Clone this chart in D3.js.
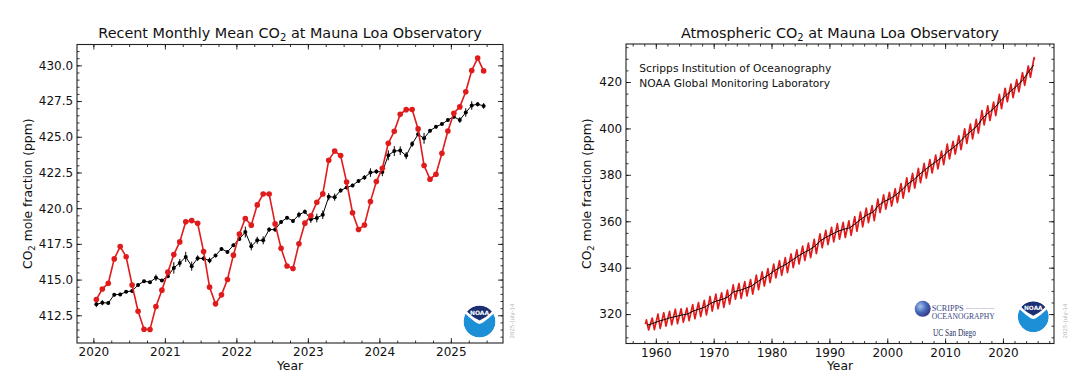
<!DOCTYPE html>
<html lang="en">
<head>
<meta charset="UTF-8">
<title>Mauna Loa CO2</title>
<script src="https://cdn.jsdelivr.net/npm/d3@7"></script>
<style>
  body { margin: 0; background: #fff; }
  svg text { font-family: "DejaVu Sans", Verdana, sans-serif; }
</style>
</head>
<body>
<svg id="chart" width="1075" height="376"></svg>
<script>
// ---- recent panel: monthly values from Jan 2020 ----
const recentStart = 2020;
const monthlyMean = [
  413.61, 414.34, 414.74, 416.45, 417.31, 416.60, 414.62, 412.78, 411.52, 411.51, 413.12, 414.26,
  415.52, 416.75, 417.64, 419.05, 419.13, 418.94, 416.96, 414.47, 413.30, 413.93, 415.01, 416.71,
  418.19, 419.28, 418.81, 420.23, 420.99, 420.99, 418.90, 417.19, 415.95, 415.78, 417.51, 418.95,
  419.47, 420.41, 421.00, 423.36, 424.00, 423.68, 421.83, 419.68, 418.51, 418.82, 420.46, 421.86,
  422.80, 424.55, 425.38, 426.57, 426.90, 426.91, 425.55, 422.99, 422.03, 422.38, 423.85, 425.40,
  426.65, 427.09, 428.15, 429.64, 430.51, 429.61
];
const trendMean = [
  413.27, 413.38, 413.36, 413.94, 413.96, 414.15, 414.20, 414.62, 414.89, 414.82, 415.13, 414.94,
  415.24, 415.82, 416.17, 416.59, 415.94, 416.50, 416.47, 416.34, 416.68, 417.15, 416.94, 417.40,
  417.85, 418.33, 417.33, 417.75, 417.75, 418.50, 418.50, 419.03, 419.33, 419.10, 419.54, 419.75,
  419.22, 419.31, 419.54, 420.80, 420.77, 421.24, 421.45, 421.59, 421.91, 422.15, 422.49, 422.56,
  422.54, 423.70, 424.00, 424.03, 423.68, 424.49, 425.17, 424.89, 425.42, 425.70, 425.89, 426.17,
  426.40, 426.17, 426.70, 427.19, 427.28, 427.16
];
const trendErr = [
  0.20, 0.18, 0.12, 0.12, 0.12, 0.10, 0.10, 0.10, 0.10, 0.10, 0.22, 0.10,
  0.12, 0.40, 0.28, 0.35, 0.32, 0.20, 0.15, 0.20, 0.12, 0.12, 0.12, 0.12,
  0.15, 0.38, 0.28, 0.25, 0.28, 0.15, 0.15, 0.12, 0.12, 0.12, 0.20, 0.15,
  0.25, 0.30, 0.30, 0.25, 0.25, 0.15, 0.12, 0.12, 0.12, 0.15, 0.30, 0.15,
  0.30, 0.35, 0.35, 0.30, 0.25, 0.20, 0.15, 0.38, 0.12, 0.12, 0.10, 0.12,
  0.15, 0.20, 0.30, 0.30, 0.15, 0.20
];

// ---- full record panel: yearly trend, May peak and autumn low ----
const longYears = [
  1958, 1959, 1960, 1961, 1962, 1963, 1964, 1965, 1966, 1967, 1968, 1969,
  1970, 1971, 1972, 1973, 1974, 1975, 1976, 1977, 1978, 1979,
  1980, 1981, 1982, 1983, 1984, 1985, 1986, 1987, 1988, 1989,
  1990, 1991, 1992, 1993, 1994, 1995, 1996, 1997, 1998, 1999,
  2000, 2001, 2002, 2003, 2004, 2005, 2006, 2007, 2008, 2009,
  2010, 2011, 2012, 2013, 2014, 2015, 2016, 2017, 2018, 2019,
  2020, 2021, 2022, 2023, 2024, 2025
];
const longTrend = [
  315.20, 315.98, 316.91, 317.64, 318.45, 318.99, 319.62, 320.04, 321.37, 322.18, 323.05, 324.62,
  325.68, 326.32, 327.46, 329.68, 330.19, 331.12, 332.03, 333.84, 335.41, 336.84,
  338.76, 340.12, 341.48, 343.15, 344.87, 346.35, 347.61, 349.31, 351.69, 353.20,
  354.45, 355.70, 356.54, 357.21, 358.96, 360.97, 362.74, 363.88, 366.84, 368.54,
  369.71, 371.32, 373.45, 375.98, 377.70, 379.98, 382.09, 384.02, 385.83, 387.64,
  390.10, 391.85, 394.06, 396.74, 398.81, 401.01, 404.41, 406.76, 408.72, 411.65,
  414.21, 416.41, 418.53, 421.08, 424.61, 427.30
];
const longPeak = [
  317.5, 318.3, 320.0, 320.6, 321.2, 322.1, 322.3, 322.6, 324.1, 325.0, 325.9, 327.6,
  328.6, 329.2, 330.3, 332.6, 333.2, 334.0, 334.9, 336.8, 338.2, 339.6,
  341.5, 343.0, 344.3, 345.9, 347.7, 349.3, 350.6, 352.2, 354.6, 356.1,
  357.4, 359.0, 359.5, 360.2, 362.0, 364.0, 365.7, 366.7, 369.5, 371.4,
  372.5, 374.0, 376.2, 378.7, 380.6, 382.8, 384.9, 386.6, 388.5, 390.2,
  393.2, 394.4, 396.8, 399.8, 401.9, 403.9, 407.7, 409.7, 411.3, 414.7,
  417.3, 419.1, 421.0, 424.0, 426.9, 430.5
];
const longTrough = [
  313.2, 313.3, 313.8, 314.8, 315.4, 315.9, 316.5, 317.2, 318.0, 318.9, 319.7, 321.3,
  322.3, 322.9, 324.3, 326.4, 326.8, 327.8, 328.6, 330.5, 332.1, 333.6,
  335.6, 336.7, 337.9, 340.0, 341.6, 343.1, 344.3, 346.1, 348.6, 349.9,
  351.1, 352.3, 353.0, 353.9, 355.7, 357.6, 359.4, 360.3, 363.7, 365.2,
  366.5, 368.0, 370.0, 372.7, 374.3, 376.6, 378.6, 380.8, 382.6, 384.4,
  386.9, 388.9, 390.9, 393.5, 395.5, 398.0, 401.5, 403.4, 405.5, 408.5,
  411.5, 413.3, 415.8, 418.5, 422.0, null
];
const firstMonthly = [1958.208, 315.70];   // Mar 1958
const lastMonthly = [2025.458, 429.61];    // Jun 2025
const peakTime = 0.375, troughTime = 0.75; // fraction of the year

const stamp = "2025-July-14";
const red = "#e01b1b";

const svg = d3.select("#chart");
svg.append("rect").attr("width", 1075).attr("height", 376).attr("fill", "#fff");

function padded(ext) {
  const m = (ext[1] - ext[0]) * 0.05;
  return [ext[0] - m, ext[1] + m];
}

function drawAxes(x, y, o) {
  const [xa, xb] = x.range(), [yb, ya] = y.range();
  const ticks = (s, step) => {
    const [d0, d1] = s.domain();
    return d3.range(Math.ceil(d0 / step - 1e-6), Math.floor(d1 / step + 1e-6) + 1).map(k => +(k * step).toFixed(4));
  };
  const sides = [
    [d3.axisBottom, x, `translate(0,${yb})`, o.xMajor, o.xMinor, o.xFmt, 4.5],
    [d3.axisTop, x, `translate(0,${ya})`, o.xMajor, o.xMinor, null, 0],
    [d3.axisLeft, y, `translate(${xa},0)`, o.yMajor, o.yMinor, o.yFmt, 3.8],
    [d3.axisRight, y, `translate(${xb},0)`, o.yMajor, o.yMinor, null, 0]
  ];
  sides.forEach(([axis, s, tr, major, minor, fmt, pad]) => {
    [[minor, 2.5, null], [major, 5, fmt]].forEach(([step, len, f]) => {
      const a = axis(s).tickValues(ticks(s, step)).tickSizeInner(-len).tickSizeOuter(0)
        .tickPadding(pad).tickFormat(f || (() => ""));
      svg.append("g").attr("transform", tr).call(a)
        .attr("font-family", null).attr("font-size", null)
        .call(g => g.select(".domain").remove())
        .call(g => g.selectAll("line").attr("stroke", "#000").attr("stroke-width", 0.8))
        .call(g => g.selectAll("text").attr("font-size", 12).attr("fill", "#111"));
    });
  });
  svg.append("rect").attr("x", xa).attr("y", ya).attr("width", xb - xa).attr("height", yb - ya)
    .attr("fill", "none").attr("stroke", "#222").attr("stroke-width", 1.1);

  // title with subscript
  const t = svg.append("text").attr("x", (xa + xb) / 2).attr("y", 37.5)
    .attr("text-anchor", "middle").attr("font-size", 14.4).attr("fill", "#111");
  t.append("tspan").text(o.title[0]);
  t.append("tspan").attr("font-size", 10).attr("dy", 3).text("2");
  t.append("tspan").attr("dy", -3).text(o.title[1]);

  svg.append("text").attr("x", (xa + xb) / 2).attr("y", 370).attr("text-anchor", "middle")
    .attr("font-size", 12.3).attr("fill", "#111").text("Year");

  const yl = svg.append("text").attr("transform", `translate(${o.yLabelX},${(ya + yb) / 2}) rotate(-90)`)
    .attr("text-anchor", "middle").attr("font-size", 12.3).attr("fill", "#111");
  yl.append("tspan").text("CO");
  yl.append("tspan").attr("font-size", 8.6).attr("dy", 2.6).text("2");
  yl.append("tspan").attr("dy", -2.6).text(" mole fraction (ppm)");

  svg.append("text").attr("transform", `translate(${o.stampX},321) rotate(-90)`)
    .attr("text-anchor", "middle").attr("font-size", 5.5).attr("fill", "#b4b4b4").text(stamp);
}

function noaaLogo(cx, cy, r, id) {
  const g = svg.append("g").attr("transform", `translate(${cx},${cy}) scale(${r / 16})`);
  g.append("clipPath").attr("id", id).append("circle").attr("r", 16);
  const c = g.append("g").attr("clip-path", `url(#${id})`);
  c.append("path").attr("fill", "#1d8fd7")
    .attr("d", "M-14,-7.7 C-8,-2 -3,2 0,2.5 C3,2 8,-2 14,-7.7 A16,16 0 1 1 -14,-7.7 Z");
  c.append("path").attr("fill", "#1b2f72")
    .attr("d", "M-12.5,-10 A16,16 0 0 1 12.5,-10 C8.5,-5.5 3,-2.5 0,-1 C-3,-2.5 -8.5,-5.5 -12.5,-10 Z");
  g.append("text").attr("x", 0).attr("y", -6.8).attr("text-anchor", "middle")
    .attr("font-size", 6).attr("font-weight", "bold").attr("fill", "#fff").text("NOAA");
}

// ---------------- left panel ----------------
const recentDate = i => recentStart + (i + 0.5) / 12;
const xL = d3.scaleLinear()
  .domain(padded([recentDate(0), recentDate(monthlyMean.length - 1)])).range([77, 503]);
const yL = d3.scaleLinear()
  .domain(padded(d3.extent(monthlyMean.concat(trendMean)))).range([343, 44.5]);

drawAxes(xL, yL, {
  xMajor: 1, xMinor: 0.25, yMajor: 2.5, yMinor: 0.5,
  xFmt: d3.format("d"), yFmt: d3.format(".1f"),
  title: ["Recent Monthly Mean CO", " at Mauna Loa Observatory"],
  yLabelX: 32, stampX: 514
});

const gL = svg.append("g");
gL.selectAll("line.err").data(trendMean).join("line").attr("class", "err")
  .attr("x1", (d, i) => xL(recentDate(i))).attr("x2", (d, i) => xL(recentDate(i)))
  .attr("y1", (d, i) => yL(d - trendErr[i])).attr("y2", (d, i) => yL(d + trendErr[i]))
  .attr("stroke", "#000").attr("stroke-width", 1);
gL.append("path").datum(trendMean)
  .attr("d", d3.line().x((d, i) => xL(recentDate(i))).y(d => yL(d)))
  .attr("fill", "none").attr("stroke", "#000").attr("stroke-width", 1);
gL.selectAll("circle.trend").data(trendMean).join("circle").attr("class", "trend")
  .attr("cx", (d, i) => xL(recentDate(i))).attr("cy", d => yL(d)).attr("r", 2).attr("fill", "#000");

gL.append("path").datum(monthlyMean)
  .attr("d", d3.line().x((d, i) => xL(recentDate(i))).y(d => yL(d)))
  .attr("fill", "none").attr("stroke", red).attr("stroke-width", 1.6);
gL.selectAll("circle.mean").data(monthlyMean).join("circle").attr("class", "mean")
  .attr("cx", (d, i) => xL(recentDate(i))).attr("cy", d => yL(d)).attr("r", 2.8).attr("fill", red);

noaaLogo(479.5, 321.5, 16, "noaaL");

// ---------------- right panel ----------------
const longRed = [firstMonthly];
longYears.forEach((yr, i) => {
  longRed.push([yr + peakTime, longPeak[i]]);
  if (longTrough[i] != null) longRed.push([yr + troughTime, longTrough[i]]);
});
longRed.push(lastMonthly);
const longBlack = longYears.map((yr, i) => [Math.min(yr + 0.5, lastMonthly[0] - 0.15), longTrend[i]]);

const xR = d3.scaleLinear().domain(padded([firstMonthly[0], lastMonthly[0]])).range([626, 1054]);
const yR = d3.scaleLinear()
  .domain(padded([d3.min(longTrough.filter(v => v != null)), d3.max(longPeak)])).range([343.5, 44]);

drawAxes(xR, yR, {
  xMajor: 10, xMinor: 2, yMajor: 20, yMinor: 5,
  xFmt: d3.format("d"), yFmt: d3.format("d"),
  title: ["Atmospheric CO", " at Mauna Loa Observatory"],
  yLabelX: 591, stampX: 1067
});

svg.append("path").datum(longRed)
  .attr("d", d3.line().x(d => xR(d[0])).y(d => yR(d[1])))
  .attr("fill", "none").attr("stroke", red).attr("stroke-width", 1.7).attr("stroke-linejoin", "round");
svg.append("path").datum(longBlack)
  .attr("d", d3.line().x(d => xR(d[0])).y(d => yR(d[1])))
  .attr("fill", "none").attr("stroke", "#000").attr("stroke-width", 1);

svg.append("text").attr("x", 639.3).attr("y", 71.7).attr("font-size", 10.7).attr("fill", "#111")
  .text("Scripps Institution of Oceanography");
svg.append("text").attr("x", 639.3).attr("y", 86.7).attr("font-size", 10.7).attr("fill", "#111")
  .text("NOAA Global Monitoring Laboratory");

// Scripps / UC San Diego mark
const grad = svg.append("defs").append("radialGradient").attr("id", "globe")
  .attr("cx", "35%").attr("cy", "35%").attr("r", "70%");
grad.append("stop").attr("offset", "0%").attr("stop-color", "#a9c4ea");
grad.append("stop").attr("offset", "55%").attr("stop-color", "#4468b8");
grad.append("stop").attr("offset", "100%").attr("stop-color", "#3b3583");
svg.append("circle").attr("cx", 922.7).attr("cy", 308.8).attr("r", 8).attr("fill", "url(#globe)");
const serif = '"Liberation Serif", "DejaVu Serif", serif';
const serifText = (x, y, size, len, fill, str) => {
  const t = svg.append("text")
    .attr("x", x).attr("y", y).attr("font-size", size).attr("fill", fill)
    .style("font-family", serif).text(str);
  if (len) t.attr("textLength", len).attr("lengthAdjust", "spacingAndGlyphs");
  return t;
};
serifText(931.7, 311, 8.2, null, "#3a4686", "SCRIPPS");
serifText(965.5, 309.2, 2.6, 29, "#3a4686", "INSTITUTION OF");
serifText(931.7, 318.6, 8, 63, "#3a4686", "OCEANOGRAPHY");
serifText(933, 335.5, 11, 43, "#1f3262", "UC San Diego");

noaaLogo(1033.3, 316.7, 15.5, "noaaR");
</script>
</body>
</html>
